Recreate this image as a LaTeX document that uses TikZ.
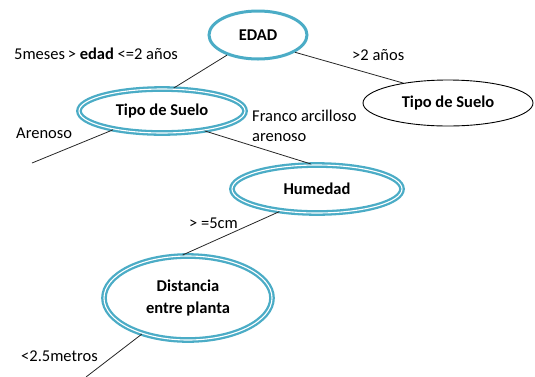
\documentclass[tikz,border=0pt]{standalone}
\usepackage{fontspec}
\setmainfont{Carlito}
\usetikzlibrary{shapes.geometric}
\definecolor{teal}{RGB}{75,172,198}
\tikzset{
  base/.style={ellipse, inner sep=0pt, font=\fontsize{16.5}{22}\selectfont\bfseries, align=center},
  single/.style={base, draw=teal, line width=3pt},
  dbl/.style={base, draw=teal, line width=2.3pt, double=white, double distance=1.1pt},
  plain/.style={base, draw=black, line width=0.9pt},
  lbl/.style={font=\fontsize{16.5}{20}\selectfont, inner sep=0pt, anchor=west, align=left},
  conn/.style={draw=black!85, line width=0.8pt}
}
\begin{document}
\begin{tikzpicture}[x=1pt,y=-1pt]
\useasboundingbox (0,0) rectangle (535,376);
\node[single, minimum width=98pt, minimum height=48pt] (edad) at (258,35) {EDAD};
\node[dbl, minimum width=166pt, minimum height=44pt] (tipoL) at (162,111) {Tipo de Suelo};
\node[plain, minimum width=170pt, minimum height=46pt] (tipoR) at (448,103) {Tipo de Suelo};
\node[dbl, minimum width=170pt, minimum height=48pt] (hum) at (317,189) {Humedad};
\node[dbl, minimum width=168pt, minimum height=84pt] (dist) at (188,298) {Distancia\\entre planta};
\coordinate (endA) at (32,163);
\coordinate (endB) at (86,377);
\draw[conn] (edad.213) -- (tipoL.63);
\draw[conn] (edad.335) -- (tipoR.156);
\draw[conn] (tipoL.201) -- (endA);
\draw[conn] (tipoL.335) -- (hum.104);
\draw[conn] (hum.211) -- (dist.97);
\draw[conn] (dist.218) -- (endB);
\node[lbl] (l1) at (14,54) {5meses\,> \textbf{edad} <=2 años};
\node[lbl] (l2) at (352,55) {>2 años};
\node[lbl] (l3) at (16,133) {Arenoso};
\node[lbl] (l4) at (252,126) {Franco arcilloso\\arenoso};
\node[lbl] (l5) at (189,223) {> =5cm};
\node[lbl] (l6) at (21,356) {<2.5metros};
\end{tikzpicture}
\end{document}
